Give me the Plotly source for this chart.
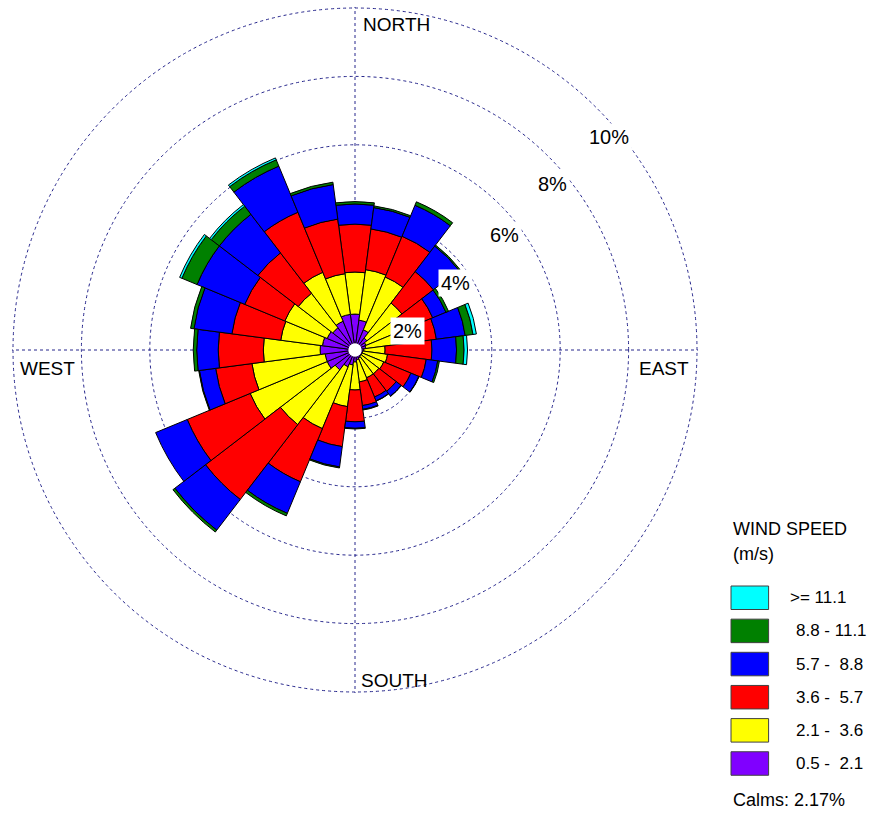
import math
import plotly.graph_objects as go

# ---- data -------------------------------------------------------------
directions = [0, 15, 30, 45, 60, 75, 90, 105, 120, 135, 150, 165,
              180, 195, 210, 225, 240, 255, 270, 285, 300, 315, 330, 345]

# frequency (%) of each wind-speed class per direction sector
freq_05_21 = [1.05, 0.88, 0.64, 0.44, 0.35, 0.32, 0.26, 0.23, 0.23, 0.23, 0.26, 0.29,
              0.35, 0.44, 0.53, 0.73, 0.88, 0.88, 1.02, 0.96, 0.88, 0.82, 0.91, 1.05]
freq_21_36 = [1.23, 1.49, 1.67, 1.29, 1.08, 1.03, 0.62, 0.73, 0.68, 0.65, 0.62, 0.65,
              0.82, 1.23, 1.96, 2.02, 2.44, 2.16, 1.66, 1.23, 1.34, 1.27, 1.55, 1.20]
freq_36_57 = [1.40, 1.20, 1.29, 1.16, 1.03, 1.05, 1.37, 1.14, 0.86, 0.64, 0.61, 0.70,
              0.93, 1.18, 1.68, 2.76, 1.99, 1.07, 1.32, 1.44, 1.27, 1.49, 1.90, 1.61]
freq_57_88 = [0.59, 0.63, 0.98, 0.94, 0.42, 0.85, 0.72, 0.34, 0.25, 0.18, 0.12, 0.11,
              0.19, 0.60, 1.00, 1.13, 1.00, 0.48, 0.63, 1.12, 1.51, 1.42, 1.46, 1.02]
freq_88_111 = [0.07, 0.05, 0.11, 0.04, 0.08, 0.23, 0.22, 0.05, 0.01, 0.01, 0.01, 0.02,
               0.02, 0.03, 0.08, 0.07, 0.00, 0.02, 0.10, 0.10, 0.48, 0.30, 0.20, 0.07]
freq_ge_111 = [0.00, 0.00, 0.00, 0.00, 0.00, 0.10, 0.10, 0.00, 0.00, 0.00, 0.00, 0.00,
               0.00, 0.00, 0.00, 0.00, 0.00, 0.00, 0.00, 0.00, 0.07, 0.06, 0.06, 0.00]

speed_classes = ["0.5 -\u00a0\u00a02.1", "2.1 -\u00a0\u00a03.6", "3.6 -\u00a0\u00a05.7",
                 "5.7 -\u00a0\u00a08.8", "8.8 - 11.1", ">= 11.1"]
class_freqs = [freq_05_21, freq_21_36, freq_36_57, freq_57_88, freq_88_111, freq_ge_111]
calms_pct = 2.17

ring_values = [2, 4, 6, 8, 10]
compass_labels = ["NORTH", "EAST", "SOUTH", "WEST"]

# ---- style ------------------------------------------------------------
class_colors = ["#8000ff", "#ffff00", "#ff0000", "#0000ff", "#008000", "#00ffff"]
grid_color = "#26268c"
FONT = "Liberation Sans, Arial, sans-serif"

W, H = 875, 813
CX, CY = 355, 350          # rose centre (px)
PX_PER_PCT = 34.2          # radial scale
R_MAX = 10.03              # radial range upper bound (%)
R_PX = R_MAX * PX_PER_PCT
HOLE_PX = 6.7


def px(x):
    return x / W


def py(y):
    return 1 - y / H


fig = go.Figure()
for label, vals, col in zip(speed_classes, class_freqs, class_colors):
    fig.add_trace(go.Barpolar(
        theta=directions, r=vals, width=15, name=label,
        marker=dict(color=col, line=dict(color="black", width=1)),
        showlegend=False,
    ))

fig.update_layout(
    width=W, height=H,
    margin=dict(l=0, r=0, t=0, b=0),
    paper_bgcolor="white",
    polar=dict(
        domain=dict(x=[px(CX - R_PX), px(CX + R_PX)],
                    y=[py(CY + R_PX), py(CY - R_PX)]),
        bgcolor="white",
        barmode="stack",
        radialaxis=dict(range=[0, R_MAX], tickvals=ring_values, showticklabels=False,
                        ticks="", showline=False, gridcolor=grid_color, gridwidth=1,
                        griddash="3px,3px"),
        angularaxis=dict(rotation=90, direction="clockwise",
                         tickvals=[0, 90, 180, 270], showticklabels=False, ticks="",
                         showline=False, gridcolor=grid_color, gridwidth=1,
                         griddash="3px,3px"),
    ),
)

shapes = []
annotations = []

# calm circle at the centre
shapes.append(dict(type="circle", xref="paper", yref="paper",
                   x0=px(CX - HOLE_PX), x1=px(CX + HOLE_PX),
                   y0=py(CY + HOLE_PX), y1=py(CY - HOLE_PX),
                   fillcolor="white", line=dict(width=0), layer="above"))

# ring labels, right edge placed on each ring
label_angles = [74.7, 60.6, 55.4, 52.3, 52.4]
label_shift = [4, -1, -2, -2, 7]
for v, ang, sh in zip(ring_values, label_angles, label_shift):
    rr = v * PX_PER_PCT + sh
    a = math.radians(ang)
    x = CX + rr * math.sin(a)
    y = CY - rr * math.cos(a)
    annotations.append(dict(x=px(x), y=py(y), xref="paper", yref="paper",
                            text=f"{v}%", showarrow=False, xanchor="right",
                            yanchor="middle", bgcolor="white", borderpad=2,
                            font=dict(family=FONT, size=20, color="black")))

# compass labels
compass_pos = [(361, 24.5), (637, 368), (359, 680), (18, 368)]
for t, (x, y) in zip(compass_labels, compass_pos):
    annotations.append(dict(x=px(x), y=py(y), xref="paper", yref="paper", text=t,
                            showarrow=False, xanchor="left", yanchor="middle",
                            font=dict(family=FONT, size=19, color="black")))

# legend
LX = 731
annotations.append(dict(x=px(LX), y=py(529), xref="paper", yref="paper",
                        text="WIND SPEED", showarrow=False, xanchor="left",
                        yanchor="middle", font=dict(family=FONT, size=18, color="black")))
annotations.append(dict(x=px(LX), y=py(554), xref="paper", yref="paper",
                        text="(m/s)", showarrow=False, xanchor="left",
                        yanchor="middle", font=dict(family=FONT, size=18, color="black")))
box_top0, box_step, box_h, box_w = 586, 33.15, 23.5, 37.6
for i, (label, col) in enumerate(zip(reversed(speed_classes), reversed(class_colors))):
    top = box_top0 + i * box_step
    shapes.append(dict(type="rect", xref="paper", yref="paper",
                       x0=px(LX), x1=px(LX + box_w), y0=py(top + box_h), y1=py(top),
                       fillcolor=col, line=dict(color="#404040", width=1)))
    tx = 788 if label.startswith(">") else 794
    annotations.append(dict(x=px(tx), y=py(top + box_h / 2), xref="paper", yref="paper",
                            text=label, showarrow=False, xanchor="left", yanchor="middle",
                            font=dict(family=FONT, size=17, color="black")))
annotations.append(dict(x=px(LX), y=py(800), xref="paper", yref="paper",
                        text=f"Calms: {calms_pct:.2f}%", showarrow=False, xanchor="left",
                        yanchor="middle", font=dict(family=FONT, size=18, color="black")))

fig.update_layout(shapes=shapes, annotations=annotations)
fig.write_html("out.html")
